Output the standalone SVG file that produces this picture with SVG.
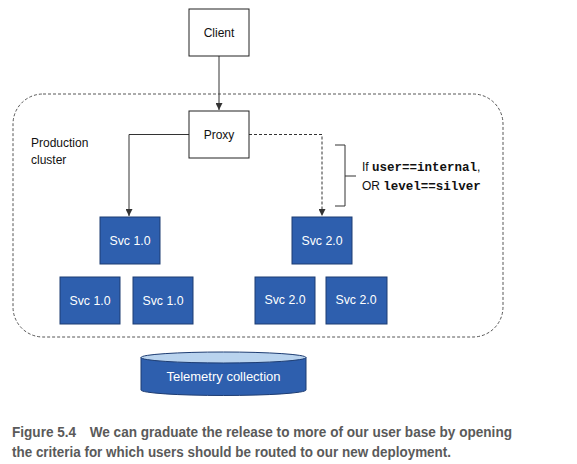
<svg xmlns="http://www.w3.org/2000/svg" width="577" height="464" viewBox="0 0 577 464">
<style>
.wbox{fill:#fff;stroke:#222;stroke-width:1}
.bbox{fill:#2e5fae;stroke:#1d3c72;stroke-width:1}
.t{font-family:"Liberation Sans",Arial,sans-serif;font-size:12px;fill:#111}
.wt{font-family:"Liberation Sans",Arial,sans-serif;font-size:12.3px;fill:#fff;text-anchor:middle}
.mono{font-family:"Liberation Mono","Courier New",monospace;font-weight:bold}
.line{fill:none;stroke:#333;stroke-width:1}
.dash{stroke-dasharray:3,2}
.cap{font-family:"Liberation Sans",Arial,sans-serif;font-size:14px;font-weight:bold;fill:#5a5a5a}
</style>
<defs>
<marker id="arr" viewBox="0 0 10 10" refX="10" refY="5" markerWidth="7" markerHeight="7" orient="auto" markerUnits="userSpaceOnUse">
<path d="M0,0 L10,5 L0,10 z" fill="#333"/>
</marker>
</defs>
<rect id="cluster" x="13" y="94" width="490" height="243" rx="30" ry="30" fill="none" stroke="#444" stroke-width="0.9" stroke-dasharray="3,2"/>
<text class="t" x="31" y="147">Production</text>
<text class="t" x="31" y="164">cluster</text>
<g id="connectors">
<path class="line" d="M219,56 V110" marker-end="url(#arr)"/>
<path class="line" d="M189,134.5 H129 V216" marker-end="url(#arr)"/>
<path class="line dash" d="M249,134.5 H322 V216" marker-end="url(#arr)"/>
<path class="line" d="M335,145 H345 V206 H335 M345,176 H356"/>
</g>
<g id="client"><rect class="wbox" x="189" y="9" width="60" height="47"/><text class="t" x="219" y="37" text-anchor="middle">Client</text></g>
<g id="proxy"><rect class="wbox" x="189" y="111" width="60" height="47"/><text class="t" x="219" y="139" text-anchor="middle">Proxy</text></g>
<g id="condition"><text class="t" x="362" y="171">If <tspan class="mono" font-size="12.5">user==internal</tspan>,</text><text class="t" x="362" y="190">OR <tspan class="mono" font-size="12.5">level==silver</tspan></text></g>
<g id="svc10a"><rect class="bbox" x="100" y="217" width="60" height="47"/><text class="wt" x="130" y="245">Svc 1.0</text></g>
<g id="svc20a"><rect class="bbox" x="292" y="217" width="60" height="47"/><text class="wt" x="322" y="245">Svc 2.0</text></g>
<g id="svc10b"><rect class="bbox" x="60" y="277" width="60" height="47"/><text class="wt" x="90" y="305">Svc 1.0</text></g>
<g id="svc10c"><rect class="bbox" x="133" y="277" width="60" height="47"/><text class="wt" x="163" y="305">Svc 1.0</text></g>
<g id="svc20b"><rect class="bbox" x="255" y="277" width="60" height="47"/><text class="wt" x="285" y="304">Svc 2.0</text></g>
<g id="svc20c"><rect class="bbox" x="326" y="277" width="61" height="47"/><text class="wt" x="356" y="304">Svc 2.0</text></g>
<g id="telemetry">
<path class="bbox" d="M141,357.5 V390 A82.5,5.5 0 0 0 306,390 V357.5"/>
<ellipse cx="223.5" cy="357.5" rx="82.5" ry="5.5" fill="#b9d3ee" stroke="#1d3c72" stroke-width="1"/>
<text class="wt" x="223.5" y="381" style="font-size:13px">Telemetry collection</text>
</g>
<text class="cap" x="12" y="437" textLength="500" lengthAdjust="spacingAndGlyphs">Figure 5.4<tspan dx="14">We can graduate the release to more of our user base by opening</tspan></text>
<text class="cap" x="12" y="457" textLength="439" lengthAdjust="spacingAndGlyphs">the criteria for which users should be routed to our new deployment.</text>
</svg>
